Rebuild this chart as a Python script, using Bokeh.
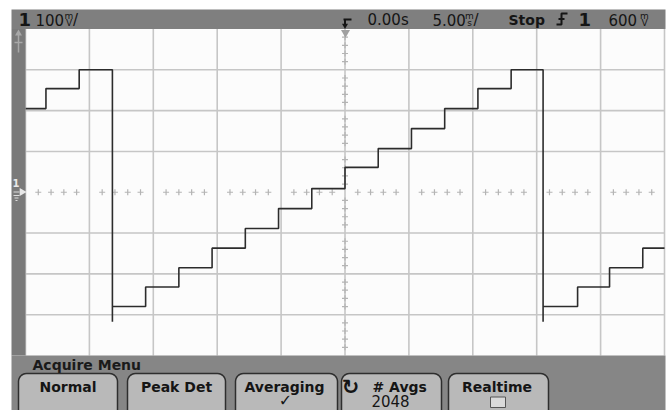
import numpy as np
from bokeh.plotting import figure
from bokeh.models import Range1d
from bokeh.embed import file_html
from bokeh.resources import INLINE
from bokeh.core.properties import value

# ---------------- data read from the scope screen ----------------
# staircase waveform: start time (ms) of each flat step and its level (mV)
seg_start_ms = [-25.0, -23.4, -20.8, -18.2, -15.6, -13.0, -10.4, -7.8, -5.2, -2.6,
                0.0, 2.6, 5.2, 7.8, 10.4, 13.0, 15.5, 18.2, 20.7, 23.3]
seg_level_mV = [205, 254, 300, -280, -232, -185, -137, -89, -40, 9,
                61, 107, 156, 205, 254, 300, -280, -232, -185, -137]
trace_end_ms = 25.0
drop_undershoot_mV = -317

grid_time_ms = [-25, -20, -15, -10, -5, 0, 5, 10, 15, 20, 25]
grid_volt_mV = [-300, -200, -100, 100, 200, 300]
center_tick_t = [t for t in range(-24, 25) if t % 5 != 0]
center_tick_v = [v for v in range(-380, 400, 20) if v % 100 != 0]

# ---------------- geometry (screen pixels) ----------------
OFF = 0
W, H = 670, 410
PL, PR, PT, PB = 25.0, 664.0, 28.5, 355.0
t_per_px = 50.0 / (PR - PL)
v_per_px = 800.0 / (PB - PT)

p = figure(width=W, height=H, output_backend="svg", toolbar_location=None,
           x_range=Range1d(OFF, OFF + W), y_range=Range1d(OFF + H, OFF),
           x_axis_type=None, y_axis_type=None, min_border=0)
p.outline_line_color = None
p.background_fill_color = "white"
p.border_fill_color = "white"
p.extra_x_ranges = {"t": Range1d(-25 - (PL - OFF) * t_per_px, 25 + (OFF + W - PR) * t_per_px)}
p.extra_y_ranges = {"v": Range1d(-400 - (OFF + H - PB) * v_per_px, 400 + (PT - OFF) * v_per_px)}
D = dict(x_range_name="t", y_range_name="v")

FONT = value("DejaVu Sans")

# plot background
p.quad(left=PL, right=PR, top=PT, bottom=PB, fill_color="#fcfcfc", line_color=None)

# graticule
GRID = "#c6c6c6"
p.segment(x0=grid_time_ms, y0=[-400] * len(grid_time_ms), x1=grid_time_ms,
          y1=[400] * len(grid_time_ms), line_color=GRID, line_width=1.6, **D)
p.segment(x0=[-25] * len(grid_volt_mV), y0=grid_volt_mV, x1=[25] * len(grid_volt_mV),
          y1=grid_volt_mV, line_color=GRID, line_width=1.6, **D)
p.scatter(x=center_tick_t, y=[0] * len(center_tick_t), marker="cross", size=6,
          line_color="#b4b4b4", line_width=1.2, **D)
p.scatter(x=[0] * len(center_tick_v), y=center_tick_v, marker="cross", size=6,
          line_color="#b4b4b4", line_width=1.2, **D)

# waveform trace
tx, vy = [], []
for i, (t0, lv) in enumerate(zip(seg_start_ms, seg_level_mV)):
    t1 = seg_start_ms[i + 1] if i + 1 < len(seg_start_ms) else trace_end_ms
    if i > 0 and lv < seg_level_mV[i - 1]:
        tx += [t0, t0]
        vy += [seg_level_mV[i - 1], drop_undershoot_mV]
    tx += [t0, t1]
    vy += [lv, lv]
p.line(x=tx, y=vy, line_color="#2c2c2c", line_width=1.6, **D)

# ---------------- screen chrome ----------------
BAR = "#7f7f7f"
p.quad(left=11, right=665, top=9, bottom=PT, fill_color=BAR, line_color=None)
p.quad(left=11, right=PL, top=PT, bottom=PB, fill_color="#7a7a7a", line_color=None)
p.quad(left=11, right=665, top=PB, bottom=OFF + H, fill_color="#868686", line_color=None)

# top-left trigger-level arrow
p.segment(x0=[18, 14], y0=[33, 42], x1=[18, 22], y1=[52, 42], line_color="#a8a8a8", line_width=1.5)
p.scatter(x=[18], y=[33], marker="triangle", size=7, fill_color="#a8a8a8", line_color=None)
# ground marker "1"
p.text(x=[15.5], y=[182], text=["1"], text_font=FONT, text_font_size="10px",
       text_font_style="bold", text_color="#e8e8e8", text_align="center", text_baseline="middle")
p.scatter(x=[21.5], y=[191.5], marker="triangle", angle=-np.pi / 2, size=8,
          fill_color="#e8e8e8", line_color=None)
p.segment(x0=[13, 13, 14, 15], y0=[191.5, 195, 197.5, 200], x1=[19, 19, 18, 17],
          y1=[191.5, 195, 197.5, 200], line_color="#dcdcdc", line_width=1)
# trigger position marker at top of graticule
p.scatter(x=[345], y=[32], marker="inverted_triangle", size=9, fill_color="#a0a0a0", line_color=None)

# top status line
TXT = "#151515"
p.text(x=[18], y=[18.5], text=["1"], text_font=FONT, text_font_size="18px", text_font_style="bold",
       text_color=TXT, text_align="left", text_baseline="middle")
p.text(x=[35, 367, 432, 608], y=[19.5] * 4, text=["100", "0.00s", "5.00", "600"], text_font=FONT,
       text_font_size="15px", text_color=TXT, text_align="left", text_baseline="middle")
p.text(x=[68.5, 469, 644], y=[15] * 3, text=["m", "m", "m"], text_font=FONT, text_font_size="9px",
       text_color=TXT, text_align="center", text_baseline="middle")
p.text(x=[68.5, 469, 644], y=[22.5] * 3, text=["V", "s", "V"], text_font=FONT, text_font_size="9px",
       text_color=TXT, text_align="center", text_baseline="middle")
p.text(x=[72.5, 473], y=[19.5] * 2, text=["/", "/"], text_font=FONT, text_font_size="15px",
       text_color=TXT, text_align="left", text_baseline="middle")
p.text(x=[508], y=[19.5], text=["Stop"], text_font=FONT, text_font_size="14px", text_font_style="bold",
       text_color=TXT, text_align="left", text_baseline="middle")
p.text(x=[578], y=[18.5], text=["1"], text_font=FONT, text_font_size="18px", text_font_style="bold",
       text_color=TXT, text_align="left", text_baseline="middle")
# trigger position symbol
p.segment(x0=[343, 344.5], y0=[19, 19], x1=[351, 344.5], y1=[19, 24], line_color=TXT, line_width=2)
p.scatter(x=[344.5], y=[25], marker="inverted_triangle", size=6, fill_color=TXT, line_color=None)
# trigger slope symbol
p.multi_line(xs=[[556, 561, 561, 567], [558, 564]], ys=[[24, 24, 13, 13], [18.5, 18.5]],
             line_color=TXT, line_width=2)

# ---------------- menu ----------------
p.text(x=[32], y=[364], text=["Acquire Menu"], text_font=FONT, text_font_size="14px",
       text_font_style="bold", text_color="#1a1a1a", text_align="left", text_baseline="middle")


def rrect(x0, y0, x1, y1, r, n=8):
    xs, ys = [], []
    corners = [(x1 - r, y0 + r, 90, 0), (x1 - r, y1 - r, 0, -90),
               (x0 + r, y1 - r, -90, -180), (x0 + r, y0 + r, 180, 90)]
    for cx, cy, a0, a1 in corners:
        for a in np.linspace(np.radians(a0), np.radians(a1), n):
            xs.append(cx + r * np.cos(a))
            ys.append(cy - r * np.sin(a))
    return xs, ys


buttons = [(18, 117), (127, 225), (235, 337), (341, 441), (448, 548)]
bx, by = [], []
for x0, x1 in buttons:
    xs, ys = rrect(x0, 373, x1, 418, 8)
    bx.append(xs)
    by.append(ys)
p.patches(xs=bx, ys=by, fill_color="#b9b9b9", line_color="#2e2e2e", line_width=1.5)

BT = "#151515"
p.text(x=[67.5, 176, 284, 496.5], y=[386.5] * 4, text=["Normal", "Peak Det", "Averaging", "Realtime"],
       text_font=FONT, text_font_size="14px", text_font_style="bold", text_color=BT,
       text_align="center", text_baseline="middle")
p.text(x=[285], y=[399.5], text=["✓"], text_font=FONT, text_font_size="16px", text_font_style="bold",
       text_color=BT, text_align="center", text_baseline="middle")
p.text(x=[350], y=[386], text=["↻"], text_font=FONT, text_font_size="21px", text_font_style="bold",
       text_color=BT, text_align="center", text_baseline="middle")
p.text(x=[372], y=[386.5], text=["# Avgs"], text_font=FONT, text_font_size="14px", text_font_style="bold",
       text_color=BT, text_align="left", text_baseline="middle")
p.text(x=[390], y=[400], text=["2048"], text_font=FONT, text_font_size="15px",
       text_color=BT, text_align="center", text_baseline="middle")
p.quad(left=490, right=505, top=396.5, bottom=407, fill_color="#dadada", line_color="#555555", line_width=1)

open("out.html", "w").write(file_html(p, INLINE))
